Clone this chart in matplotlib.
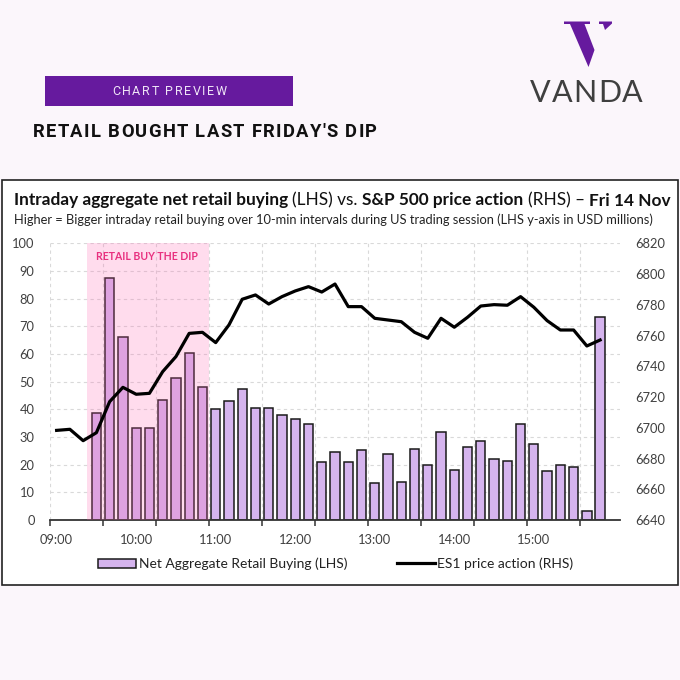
import matplotlib
matplotlib.use("Agg")
import matplotlib.pyplot as plt
from matplotlib.patches import Rectangle, Polygon, Patch
from matplotlib.lines import Line2D
from matplotlib.transforms import IdentityTransform

# category axis, 10-min steps
times = ["09:00", "09:10", "09:20", "09:30", "09:40", "09:50",
         "10:00", "10:10", "10:20", "10:30", "10:40", "10:50",
         "11:00", "11:10", "11:20", "11:30", "11:40", "11:50",
         "12:00", "12:10", "12:20", "12:30", "12:40", "12:50",
         "13:00", "13:10", "13:20", "13:30", "13:40", "13:50",
         "14:00", "14:10", "14:20", "14:30", "14:40", "14:50",
         "15:00", "15:10", "15:20", "15:30", "15:40", "15:50", "16:00"]
x_labels = ["09:00", "10:00", "11:00", "12:00", "13:00", "14:00", "15:00"]

# net aggregate retail buying, USD m, 09:30 -> 15:50
buy_start = "09:30"
retail_buying = [38.7, 87.6, 66.0, 33.1, 33.1, 43.4, 51.2, 60.2, 48.0, 40.1,
                 42.9, 47.3, 40.4, 40.4, 37.8, 36.6, 34.6, 21.0, 24.7, 21.1,
                 25.2, 13.5, 24.0, 13.6, 25.5, 20.0, 31.7, 18.1, 26.5, 28.4,
                 21.9, 21.3, 34.6, 27.3, 17.8, 19.8, 19.2, 3.4, 73.4]

# ES1 price, 09:00 -> 15:50
price_start = "09:00"
es1_price = [6698.3, 6699.0, 6691.6, 6696.8, 6717.0, 6726.3, 6721.8, 6722.4,
             6736.5, 6746.3, 6761.4, 6762.1, 6755.4, 6766.9, 6783.6, 6786.4,
             6780.5, 6785.3, 6789.0, 6791.8, 6788.3, 6793.5, 6778.8, 6778.8,
             6771.2, 6770.1, 6769.0, 6762.1, 6758.2, 6771.2, 6765.4, 6771.9,
             6779.2, 6780.1, 6779.7, 6785.3, 6778.4, 6769.7, 6763.6, 6763.6,
             6753.2, 6757.1]

BG = "#FBF6FB"
PURPLE = "#661A9E"
BAR = "#D5B4EE"
W = H = 680

fig = plt.figure(figsize=(6.8, 6.8), dpi=100, facecolor=BG)
renderer = fig.canvas.get_renderer()
PX = IdentityTransform()


def ink_width(s, **kw):
    t = fig.text(0, 0, s, transform=PX, **kw)
    w = t.get_window_extent(renderer).width
    t.remove()
    return w


def spaced_text(x, y, s, size, target=None, track=0.0, **kw):
    # letter spaced text, x/y in pixels from top-left, y = baseline
    kw = dict(kw, fontsize=size)
    offs = []
    for k, ch in enumerate(s):
        if ch == " ":
            offs.append(None)
            continue
        offs.append(ink_width(s[:k + 1], **kw) - ink_width(ch, **kw))
    natural = ink_width(s, **kw)
    if target is not None:
        track = (target - natural) / (len(s) - 1)
    for k, ch in enumerate(s):
        if offs[k] is None:
            continue
        fig.text(x + offs[k] + k * track, H - y, ch, transform=PX,
                 ha="left", va="baseline", **kw)


def segments(x, y, segs, size, target=None, **kw):
    # mixed weight text on one line, fitted to a width
    def total(sz):
        tot = 0
        for i, (s, wt) in enumerate(segs):
            tot += ink_width(s, fontsize=sz, fontweight=wt, **kw)
            if i < len(segs) - 1:
                tot += (ink_width("a a", fontsize=sz, fontweight=wt, **kw)
                        - ink_width("aa", fontsize=sz, fontweight=wt, **kw))
        return tot
    if target is not None:
        size = size * target / total(size)
    cx = x
    for s, wt in segs:
        fig.text(cx, H - y, s, transform=PX, ha="left", va="baseline",
                 fontsize=size, fontweight=wt, **kw)
        cx += ink_width(s, fontsize=size, fontweight=wt, **kw)
        cx += (ink_width("a a", fontsize=size, fontweight=wt, **kw)
               - ink_width("aa", fontsize=size, fontweight=wt, **kw))


# ---- header ----
fig.patches.append(Rectangle((45 / W, 1 - 106 / H), 248 / W, 30 / H,
                             transform=fig.transFigure, facecolor=PURPLE,
                             edgecolor="none", zorder=-2))
spaced_text(112, 95, "CHART PREVIEW", 9, target=115, family="Roboto",
            color="#EFE4F6")
spaced_text(33, 137, "RETAIL BOUGHT LAST FRIDAY'S DIP", 13.2, target=344,
            family="Roboto", fontweight="bold", color="#111111")

# logo
v_left = [(564, 21.5), (590, 21.5), (590, 24), (584.5, 24), (594.5, 50),
          (588.5, 67), (570, 24), (564, 24)]
v_right = [(599, 21.5), (612, 21.5), (612, 23.5), (605, 30), (603, 24), (599, 24)]
for pts in (v_left, v_right):
    fig.patches.append(Polygon([(px / W, 1 - py / H) for px, py in pts],
                               closed=True, transform=fig.transFigure,
                               facecolor=PURPLE, edgecolor="none", zorder=-2))
spaced_text(530, 102, "VANDA", 22, target=113, family="Lato", color="#3F3F3F")

# ---- chart box ----
fig.patches.append(Rectangle((2 / W, 1 - 585 / H), 676 / W, 405 / H,
                             transform=fig.transFigure, facecolor="white",
                             edgecolor="#222222", linewidth=1.2, zorder=-1))

segments(14, 205.5, [("Intraday aggregate net retail buying", "bold"),
                     ("(LHS) vs.", "normal"),
                     ("S&P 500 price action", "bold"),
                     ("(RHS) \u2013", "normal"),
                     ("Fri 14 Nov", "bold")],
         11, target=654, family="Lato", color="#111111")
segments(14, 224, [("Higher = Bigger intraday retail buying over 10-min intervals "
                    "during US trading session (LHS y-axis in USD millions)", "normal")],
         8, target=648, family="Lato", color="#222222")

# ---- axes ----
ax = fig.add_axes([50 / W, 160 / H, 570 / W, 276.7 / H])
ax.set_facecolor("none")
ax.set_xlim(-0.5, len(times) - 0.5)
ax.set_ylim(0, 100)

b0 = times.index(buy_start)
bar_x = list(range(b0, b0 + len(retail_buying)))
ax.bar(bar_x, retail_buying, width=0.7, color=BAR, edgecolor="#1A1A1A",
       linewidth=1.1, zorder=2)
ax.axvspan(2.3, 11.5, color="hotpink", alpha=0.227, linewidth=0, zorder=3)
ax.text(6.85, 95.4, "RETAIL BUY THE DIP", color="#E8307F", fontsize=7.6,
        fontweight="bold", family="Lato", ha="center", va="center", zorder=4)

ax.set_yticks(range(0, 101, 10))
ax.set_xticks([times.index(t) for t in x_labels])
ax.set_xticklabels(x_labels)
ax.set_xticks([k - 0.5 for k in range(0, len(times) - 1, 4)], minor=True)
ax.tick_params(axis="x", which="major", length=0, pad=10)
ax.tick_params(axis="x", which="minor", length=4.5, width=1.1, color="#333333")
ax.tick_params(axis="y", length=0, pad=11)
ax.tick_params(labelsize=9.3, labelcolor="#404040")
for lab in ax.get_xticklabels() + ax.get_yticklabels():
    lab.set_family("Lato")
ax.grid(axis="y", which="major", color="#D9D9D9", linestyle=(0, (3, 3)),
        linewidth=0.8, zorder=0)
ax.grid(axis="x", which="minor", color="#D9D9D9", linestyle=(0, (3, 3)),
        linewidth=0.8, zorder=0)
ax.set_axisbelow(True)
for side in ("left", "right", "top"):
    ax.spines[side].set_visible(False)
ax.spines["bottom"].set_color("#333333")
ax.spines["bottom"].set_linewidth(1.3)

ax2 = ax.twinx()
ax2.set_ylim(6640, 6820)
ax2.set_yticks(range(6640, 6821, 20))
p0 = times.index(price_start)
price_x = list(range(p0, p0 + len(es1_price)))
ax2.plot(price_x, es1_price, color="black", linewidth=2.3,
         solid_joinstyle="round")
for side in ax2.spines:
    ax2.spines[side].set_visible(False)
ax2.tick_params(axis="y", length=0, pad=11, labelsize=9.3, labelcolor="#404040")
for lab in ax2.get_yticklabels():
    lab.set_family("Lato")

# ---- legend ----
handles = [Patch(facecolor=BAR, edgecolor="#1A1A1A", linewidth=1.1),
           Line2D([], [], color="black", linewidth=2.3)]
fig.legend(handles, ["Net Aggregate Retail Buying (LHS)", "ES1 price action (RHS)"],
           loc="center", bbox_to_anchor=(336 / W, 1 - 564 / H), ncol=2,
           frameon=False, prop={"family": "Lato", "size": 10},
           labelcolor="#222222", handlelength=2.7, handletextpad=0.2,
           columnspacing=3.6, borderaxespad=0)

fig.savefig("out.png", dpi=100, facecolor=BG)
